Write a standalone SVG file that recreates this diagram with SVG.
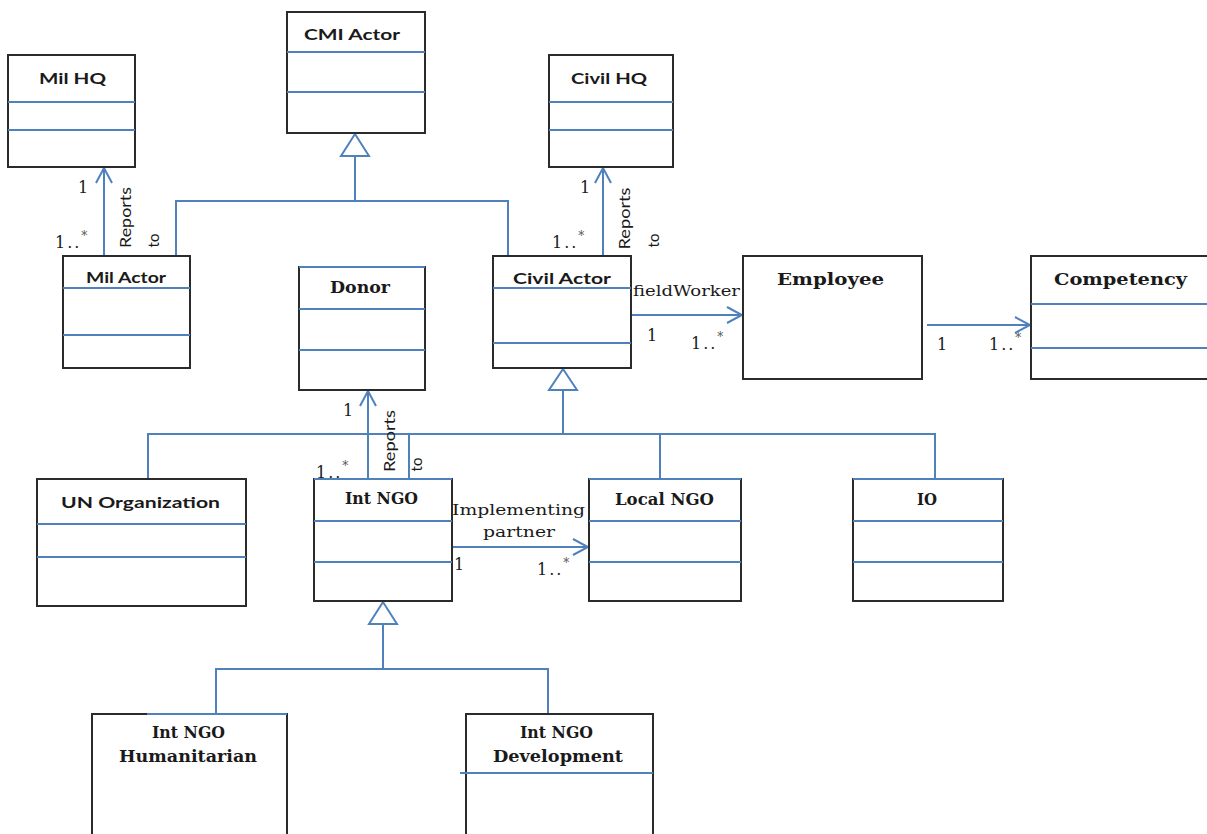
<svg xmlns="http://www.w3.org/2000/svg" width="1207" height="834" viewBox="0 0 1207 834">
  <style>
    .box { fill: #ffffff; stroke: #2b2b2b; stroke-width: 2; }
    .div { stroke: #4f81bd; stroke-width: 2; fill: none; }
    .edge { stroke: #4f81bd; stroke-width: 2; fill: none; }
    .tri { fill: #ffffff; stroke: #4f81bd; stroke-width: 2; stroke-linejoin: miter; }
    .sans { font-family: Lato, "Liberation Sans", sans-serif; font-weight: bold; font-size: 16px; fill: #1a1a1a; text-anchor: middle; }
    .serif { font-family: "DejaVu Serif", "Liberation Serif", serif; font-weight: bold; font-size: 17px; fill: #1a1a1a; text-anchor: middle; }
    .lbl { font-family: "DejaVu Serif", "Liberation Serif", serif; font-size: 15px; fill: #1a1a1a; }
    .rot { font-family: Lato, "Liberation Sans", sans-serif; font-size: 15px; fill: #1a1a1a; text-anchor: middle; }
    .num { font-family: "DejaVu Serif", "Liberation Serif", serif; font-size: 16px; fill: #1a1a1a; letter-spacing: 2px; }
    .sup { font-size: 12px; fill: #555555; letter-spacing: 0; }
  </style>
  <defs>
    <marker id="open" viewBox="-17 -10 19 20" refX="0" refY="0" markerWidth="19" markerHeight="20" markerUnits="userSpaceOnUse" orient="auto">
      <path d="M-15,-8 L0,0 L-15,8" fill="none" stroke="#4f81bd" stroke-width="2"/>
    </marker>
  </defs>

  <rect width="1207" height="834" fill="#ffffff"/>

  <!-- connectors -->
  <g id="connectors">
    <!-- reports-to associations -->
    <line class="edge" x1="104" y1="256" x2="104" y2="168" marker-end="url(#open)"/>
    <line class="edge" x1="603" y1="256" x2="603" y2="168" marker-end="url(#open)"/>
    <line class="edge" x1="368" y1="479" x2="368" y2="391" marker-end="url(#open)"/>
    <!-- fieldWorker -->
    <line class="edge" x1="631" y1="315" x2="742" y2="315" marker-end="url(#open)"/>
    <!-- employee to competency -->
    <line class="edge" x1="927" y1="325" x2="1030" y2="325" marker-end="url(#open)"/>
    <!-- implementing partner -->
    <line class="edge" x1="452" y1="547" x2="588" y2="547" marker-end="url(#open)"/>

    <!-- generalisation: CMI Actor -->
    <path class="edge" d="M355,156 V201 M176,256 V201 H508 V256"/>
    <path class="tri" d="M355,134 L341,156 L369,156 Z"/>
    <!-- generalisation: Civil Actor -->
    <path class="edge" d="M563,390 V434 M148,479 V434 H935 V479 M409,434 V479 M660,434 V479"/>
    <path class="tri" d="M563,369 L549,390 L577,390 Z"/>
    <!-- generalisation: Int NGO -->
    <path class="edge" d="M383,624 V669 M216,714 V669 H548 V714"/>
    <path class="tri" d="M383,602 L369,624 L397,624 Z"/>

    <!-- association labels -->
    <text class="num" x="78" y="193">1</text>
    <text class="num" x="55" y="248">1..<tspan class="sup" dy="-8">*</tspan></text>
    <text class="rot" transform="translate(131,217.5) rotate(-90)" textLength="61" lengthAdjust="spacingAndGlyphs">Reports</text>
    <text class="rot" transform="translate(159,240.5) rotate(-90)">to</text>

    <text class="num" x="580" y="193">1</text>
    <text class="num" x="552" y="248">1..<tspan class="sup" dy="-8">*</tspan></text>
    <text class="rot" transform="translate(630,218.5) rotate(-90)" textLength="62" lengthAdjust="spacingAndGlyphs">Reports</text>
    <text class="rot" transform="translate(659,240.5) rotate(-90)">to</text>

    <text class="num" x="343" y="416">1</text>
    <text class="num" x="316" y="478">1..<tspan class="sup" dy="-8">*</tspan></text>
    <text class="rot" transform="translate(395,441) rotate(-90)" textLength="62" lengthAdjust="spacingAndGlyphs">Reports</text>
    <text class="rot" transform="translate(422,464.5) rotate(-90)">to</text>

    <text class="lbl" x="633" y="296" textLength="107" lengthAdjust="spacingAndGlyphs">fieldWorker</text>
    <text class="num" x="647" y="341">1</text>
    <text class="num" x="691" y="349">1..<tspan class="sup" dy="-8">*</tspan></text>

    <text class="num" x="937" y="350">1</text>
    <text class="num" x="989" y="350">1..<tspan class="sup" dy="-8">*</tspan></text>

    <text class="lbl" x="518.5" y="515" text-anchor="middle" textLength="133" lengthAdjust="spacingAndGlyphs">Implementing</text>
    <text class="lbl" x="519" y="537" text-anchor="middle" textLength="72" lengthAdjust="spacingAndGlyphs">partner</text>
    <text class="num" x="454" y="570">1</text>
    <text class="num" x="537" y="575">1..<tspan class="sup" dy="-8">*</tspan></text>
  </g>

  <!-- classes -->
  <g id="mil-hq">
    <rect class="box" x="8" y="55" width="127" height="112"/>
    <path class="div" d="M8,102 H135 M8,130 H135"/>
    <text class="sans" x="72.5" y="84" textLength="67" lengthAdjust="spacingAndGlyphs">Mil HQ</text>
  </g>

  <g id="cmi-actor">
    <rect class="box" x="287" y="12" width="138" height="121"/>
    <path class="div" d="M287,52 H425 M287,92 H425"/>
    <text class="sans" x="352" y="40" textLength="96" lengthAdjust="spacingAndGlyphs">CMI Actor</text>
  </g>

  <g id="civil-hq">
    <rect class="box" x="549" y="55" width="124" height="112"/>
    <path class="div" d="M549,102 H673 M549,130 H673"/>
    <text class="sans" x="609" y="84" textLength="76" lengthAdjust="spacingAndGlyphs">Civil HQ</text>
  </g>

  <g id="mil-actor">
    <rect class="box" x="63" y="256" width="127" height="112"/>
    <path class="div" d="M63,288 H190 M63,335 H190"/>
    <text class="sans" x="126" y="283" textLength="80" lengthAdjust="spacingAndGlyphs">Mil Actor</text>
  </g>

  <g id="civil-actor">
    <rect class="box" x="493" y="256" width="138" height="112"/>
    <path class="div" d="M493,288 H631 M493,343 H631"/>
    <text class="sans" x="562" y="284" textLength="98" lengthAdjust="spacingAndGlyphs">Civil Actor</text>
  </g>

  <g id="donor">
    <rect class="box" x="299" y="267" width="126" height="123"/>
    <path class="div" d="M299,267 H425 M299,309 H425 M299,350 H425"/>
    <text class="serif" x="360" y="293" textLength="60" lengthAdjust="spacingAndGlyphs">Donor</text>
  </g>

  <g id="employee">
    <rect class="box" x="743" y="256" width="179" height="123"/>
    <text class="serif" x="830.5" y="285" textLength="107" lengthAdjust="spacingAndGlyphs">Employee</text>
  </g>

  <g id="competency">
    <rect class="box" x="1031" y="256" width="180" height="123"/>
    <path class="div" d="M1031,304 H1211 M1031,348 H1211"/>
    <text class="serif" x="1120.5" y="285" textLength="133" lengthAdjust="spacingAndGlyphs">Competency</text>
  </g>

  <g id="un-organization">
    <rect class="box" x="37" y="479" width="209" height="127"/>
    <path class="div" d="M37,524 H246 M37,557 H246"/>
    <text class="sans" x="140.5" y="508" textLength="159" lengthAdjust="spacingAndGlyphs">UN Organization</text>
  </g>

  <g id="int-ngo">
    <rect class="box" x="314" y="479" width="138" height="122"/>
    <path class="div" d="M314,479 H452 M314,521 H452 M314,562 H452"/>
    <text class="serif" x="381.5" y="504" textLength="73" lengthAdjust="spacingAndGlyphs">Int NGO</text>
  </g>

  <g id="local-ngo">
    <rect class="box" x="589" y="479" width="152" height="122"/>
    <path class="div" d="M589,479 H741 M589,521 H741 M589,562 H741"/>
    <text class="serif" x="664.5" y="505" textLength="99" lengthAdjust="spacingAndGlyphs">Local NGO</text>
  </g>

  <g id="io">
    <rect class="box" x="853" y="479" width="150" height="122"/>
    <path class="div" d="M853,479 H1003 M853,521 H1003 M853,562 H1003"/>
    <text class="serif" x="927" y="505" textLength="20" lengthAdjust="spacingAndGlyphs">IO</text>
  </g>

  <g id="int-ngo-humanitarian">
    <rect class="box" x="92" y="714" width="195" height="140"/>
    <path class="div" d="M147,714 H287"/>
    <text class="serif" x="188.5" y="738" textLength="73" lengthAdjust="spacingAndGlyphs">Int NGO</text>
    <text class="serif" x="188" y="762" textLength="138" lengthAdjust="spacingAndGlyphs">Humanitarian</text>
  </g>

  <g id="int-ngo-development">
    <rect class="box" x="466" y="714" width="187" height="140"/>
    <path class="div" d="M460,773 H653"/>
    <text class="serif" x="556.5" y="738" textLength="73" lengthAdjust="spacingAndGlyphs">Int NGO</text>
    <text class="serif" x="558" y="762" textLength="130" lengthAdjust="spacingAndGlyphs">Development</text>
  </g>
</svg>
